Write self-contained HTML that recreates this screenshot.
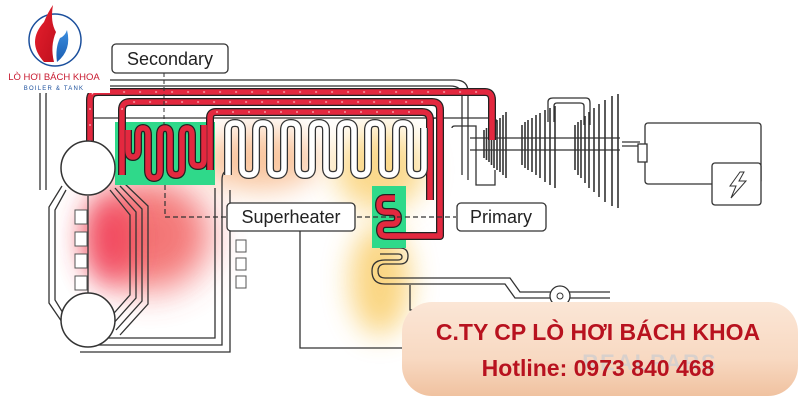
<!DOCTYPE html>
<html><head><meta charset="utf-8"><style>
html,body{margin:0;padding:0;width:800px;height:400px;overflow:hidden;background:#fff}
svg{display:block}
</style></head><body>
<svg width="800" height="400" viewBox="0 0 800 400" xmlns="http://www.w3.org/2000/svg" font-family="Liberation Sans, sans-serif">
<defs>
<filter id="b1" x="-50%" y="-50%" width="200%" height="200%"><feGaussianBlur stdDeviation="18"/></filter>
<filter id="b2" x="-50%" y="-50%" width="200%" height="200%"><feGaussianBlur stdDeviation="14"/></filter>
<linearGradient id="ban" x1="0" y1="0" x2="0" y2="1"><stop offset="0" stop-color="#fbe6d6"/><stop offset="0.6" stop-color="#f8d9c2"/><stop offset="1" stop-color="#f0c2a0"/></linearGradient>
<linearGradient id="fl1" x1="0" y1="0" x2="1" y2="1"><stop offset="0" stop-color="#e8202e"/><stop offset="1" stop-color="#c0101e"/></linearGradient>
<linearGradient id="fl2" x1="0" y1="0" x2="0" y2="1"><stop offset="0" stop-color="#3b8ee0"/><stop offset="1" stop-color="#1b5db0"/></linearGradient>
</defs>

<ellipse cx="150" cy="235" rx="60" ry="55" fill="#f04848" opacity="0.75" filter="url(#b1)"/>
<ellipse cx="110" cy="240" rx="25" ry="45" fill="#f03050" opacity="0.7" filter="url(#b2)"/>
<ellipse cx="260" cy="160" rx="60" ry="30" fill="#f5a060" opacity="0.6" filter="url(#b2)"/>
<ellipse cx="380" cy="170" rx="45" ry="40" fill="#f8c040" opacity="0.6" filter="url(#b2)"/>
<ellipse cx="380" cy="280" rx="30" ry="55" fill="#f8c040" opacity="0.65" filter="url(#b2)"/>

<g fill="none" stroke="#333" stroke-width="1.3">
<path d="M40 190 V92 Q40 80 52 80 H455 Q468 80 468 92 V180"/>
<path d="M46 190 V95 Q46 86 55 86 H450 Q462 86 462 96 V175"/>
<path d="M92 118 H440"/>
<path d="M88 196 V338 H215 V188"/>
<path d="M82 345 H222 V180 Q222 170 230 170"/>
<path d="M80 352 H230 V190"/>
<path d="M110 190 L130 215 V295 L108 320"/>
<path d="M115 188 L136 212 V298 L112 325"/>
<path d="M120 186 L142 209 V301 L116 330"/>
<path d="M125 184 L148 206 V304 L120 335"/>
<path d="M66 190 L55 210 V300 L66 318"/>
<path d="M62 186 L49 207 V303 L62 322"/>
<path d="M300 225 V348 H440"/>
<path d="M380 248 H400 Q408 248 408 256 Q408 264 400 264 H385 Q378 264 378 271 Q378 278 385 278 H510 L520 292 H610"/>
<path d="M380 254 H398 Q402 254 402 257 Q402 260 398 260 H385 Q372 260 372 271 Q372 284 385 284 H505 L515 298 H610"/>
<path d="M410 285 V310 H460"/>
<path d="M470 138 H620 M470 150 H620"/>
<path d="M622 142 H640 M622 146 H640"/>
<path d="M430 124 Q430 118 436 118 H492 Q497 118 497 124 V135"/>
<path d="M452 128 Q452 126 455 126 H476 V185 H495 V170"/>
<path d="M548 122 V102 Q548 98 553 98 H586 Q590 98 590 103 V125"/>
<path d="M554 122 V106 Q554 103 557 103 H580 Q584 103 584 106 V125"/>
<rect x="645" y="123" width="116" height="61" rx="3"/>
<rect x="712" y="163" width="49" height="42" rx="3" fill="#fff"/>
<rect x="638" y="144" width="9" height="18" fill="#fff"/>
<path d="M740 172 L730 186 H736 L731 198 L746 181 H739 L744 172 Z" stroke-width="1"/>
</g>

<g stroke="#333" stroke-width="1.6">
<path d="M484 130 V158 M486.5 128 V160 M489 126 V162 M491.5 124 V165 M494 122 V168 M497 120 V170 M500 118 V172 M503 115 V175 M506 112 V178"/>
<path d="M522 125 V165 M525 122 V168 M528 120 V170 M532 118 V172 M536 115 V175 M540 113 V178 M545 110 V182 M550 108 V185 M555 106 V188"/>
<path d="M575 125 V170 M578 122 V175 M581 120 V178 M585 116 V183 M589 112 V188 M594 108 V192 M599 104 V197 M605 100 V202 M612 96 V206 M618 94 V208"/>
</g>

<rect x="115" y="122" width="100" height="63" fill="#2fd98a"/>
<rect x="372" y="186" width="34" height="62" fill="#2fd98a"/>

<g id="red" fill="none" stroke-linejoin="round">
<g stroke="#222" stroke-width="8">
<path d="M90 190 V100 Q90 92 98 92 H485 Q492 92 492 100 V140"/>
<path d="M122 175 V110 Q122 102 130 102 H432 Q440 102 440 110 V236 H390"/>
<path d="M210 170 V118 Q210 112 216 112 H422 Q430 112 430 120 V200"/>
<path d="M128 130 V150 Q128 157 133 157 Q138 157 138 150 V135 Q138 128 143 128 Q148 128 148 135 V170 Q148 178 154 178 Q160 178 160 170 V135 Q160 128 165 128 Q170 128 170 135 V168 Q170 175 176 175 Q182 175 182 168 V135 Q182 128 187 128 Q192 128 192 135 V160 Q192 166 198 166 Q204 166 204 160 V125"/>
<path d="M395 198 H385 Q379 198 379 205 Q379 212 386 212 H392 Q398 212 398 218 Q398 224 392 224 H386 Q380 224 380 230 Q380 236 386 236 H400"/>
</g>
<g stroke="#e3283f" stroke-width="5.5">
<path d="M90 190 V100 Q90 92 98 92 H485 Q492 92 492 100 V140"/>
<path d="M122 175 V110 Q122 102 130 102 H432 Q440 102 440 110 V236 H390"/>
<path d="M210 170 V118 Q210 112 216 112 H422 Q430 112 430 120 V200"/>
<path d="M128 130 V150 Q128 157 133 157 Q138 157 138 150 V135 Q138 128 143 128 Q148 128 148 135 V170 Q148 178 154 178 Q160 178 160 170 V135 Q160 128 165 128 Q170 128 170 135 V168 Q170 175 176 175 Q182 175 182 168 V135 Q182 128 187 128 Q192 128 192 135 V160 Q192 166 198 166 Q204 166 204 160 V125"/>
<path d="M395 198 H385 Q379 198 379 205 Q379 212 386 212 H392 Q398 212 398 218 Q398 224 392 224 H386 Q380 224 380 230 Q380 236 386 236 H400"/>
</g>
</g>
<g fill="none" stroke="#ffd0d6" stroke-width="1" stroke-dasharray="2 14">
<path d="M90 190 V100 Q90 92 98 92 H485"/><path d="M122 110 Q122 102 130 102 H432"/><path d="M216 112 H422"/>
</g>

<path d="M228 175 V130 Q228 123 235 123 Q242 123 242 130 V168 Q242 175 249 175 Q256 175 256 168 V130 Q256 123 263 123 Q270 123 270 130 V168 Q270 175 277 175 Q284 175 284 168 V130 Q284 123 291 123 Q298 123 298 130 V168 Q298 175 305 175 Q312 175 312 168 V130 Q312 123 319 123 Q326 123 326 130 V168 Q326 175 333 175 Q340 175 340 168 V130 Q340 123 347 123 Q354 123 354 130 V168 Q354 175 361 175 Q368 175 368 168 V130 Q368 123 375 123 Q382 123 382 130 V168 Q382 175 389 175 Q396 175 396 168 V130 Q396 123 403 123 Q410 123 410 130 V168 Q410 175 417 175 Q424 175 424 168 V128" fill="none" stroke="#333" stroke-width="8" stroke-linejoin="round"/>
<path d="M228 175 V130 Q228 123 235 123 Q242 123 242 130 V168 Q242 175 249 175 Q256 175 256 168 V130 Q256 123 263 123 Q270 123 270 130 V168 Q270 175 277 175 Q284 175 284 168 V130 Q284 123 291 123 Q298 123 298 130 V168 Q298 175 305 175 Q312 175 312 168 V130 Q312 123 319 123 Q326 123 326 130 V168 Q326 175 333 175 Q340 175 340 168 V130 Q340 123 347 123 Q354 123 354 130 V168 Q354 175 361 175 Q368 175 368 168 V130 Q368 123 375 123 Q382 123 382 130 V168 Q382 175 389 175 Q396 175 396 168 V130 Q396 123 403 123 Q410 123 410 130 V168 Q410 175 417 175 Q424 175 424 168 V128" fill="none" stroke="#fff" stroke-width="5.5" stroke-linejoin="round"/>

<circle cx="88" cy="168" r="27" fill="#fff" stroke="#333" stroke-width="1.5"/>
<circle cx="88" cy="320" r="27" fill="#fff" stroke="#333" stroke-width="1.5"/>

<g fill="#fff" stroke="#555" stroke-width="1">
<rect x="75" y="210" width="12" height="14"/><rect x="75" y="232" width="12" height="14"/><rect x="75" y="254" width="12" height="14"/><rect x="75" y="276" width="12" height="14"/>
<rect x="236" y="240" width="10" height="12"/><rect x="236" y="258" width="10" height="12"/><rect x="236" y="276" width="10" height="12"/>
</g>

<circle cx="560" cy="296" r="10" fill="#fff" stroke="#333" stroke-width="1.3"/>
<circle cx="560" cy="296" r="3" fill="none" stroke="#333"/>

<path d="M165 185 V217 H456" fill="none" stroke="#333" stroke-width="1.2" stroke-dasharray="5 3"/>
<path d="M164 73 V125" fill="none" stroke="#333" stroke-width="1" stroke-dasharray="4 3"/>

<rect x="112" y="44" width="116" height="29" rx="4" fill="#fff" stroke="#333" stroke-width="1.3"/>
<text x="170" y="65" font-size="18" text-anchor="middle" fill="#222">Secondary</text>
<rect x="227" y="203" width="128" height="28" rx="4" fill="#fff" stroke="#333" stroke-width="1.3"/>
<text x="291" y="223" font-size="18" text-anchor="middle" fill="#222">Superheater</text>
<rect x="457" y="203" width="89" height="28" rx="4" fill="#fff" stroke="#333" stroke-width="1.3"/>
<text x="501" y="223" font-size="18" text-anchor="middle" fill="#222">Primary</text>

<rect x="0" y="0" width="110" height="93" fill="#fff"/>
<circle cx="55" cy="40" r="26" fill="none" stroke="#1b4f9c" stroke-width="1.5"/>
<path d="M44 62 Q26 42 44 22 Q48 12 53 5 Q50 22 56 32 Q50 46 54 62 Z" fill="url(#fl1)"/>
<path d="M57 62 Q72 50 67 30 Q65 36 60 38 Q55 48 57 62 Z" fill="url(#fl2)"/>
<text x="54" y="80" font-size="9.5" text-anchor="middle" fill="#c81a30">LÒ HƠI BÁCH KHOA</text>
<text x="54" y="90" font-size="6" text-anchor="middle" fill="#1b4f9c" letter-spacing="1.2">BOILER &amp; TANK</text>

<rect x="402" y="302" width="396" height="94" rx="30" fill="url(#ban)"/>
<text x="650" y="370" font-size="22" font-weight="bold" fill="#d8d0cc" text-anchor="middle" letter-spacing="2">REALPARS</text>
<text x="598" y="340" font-size="23" font-weight="bold" text-anchor="middle" fill="#b8121f">C.TY CP LÒ HƠI BÁCH KHOA</text>
<text x="598" y="376" font-size="23" font-weight="bold" text-anchor="middle" fill="#b8121f">Hotline: 0973 840 468</text>
</svg>
</body></html>
